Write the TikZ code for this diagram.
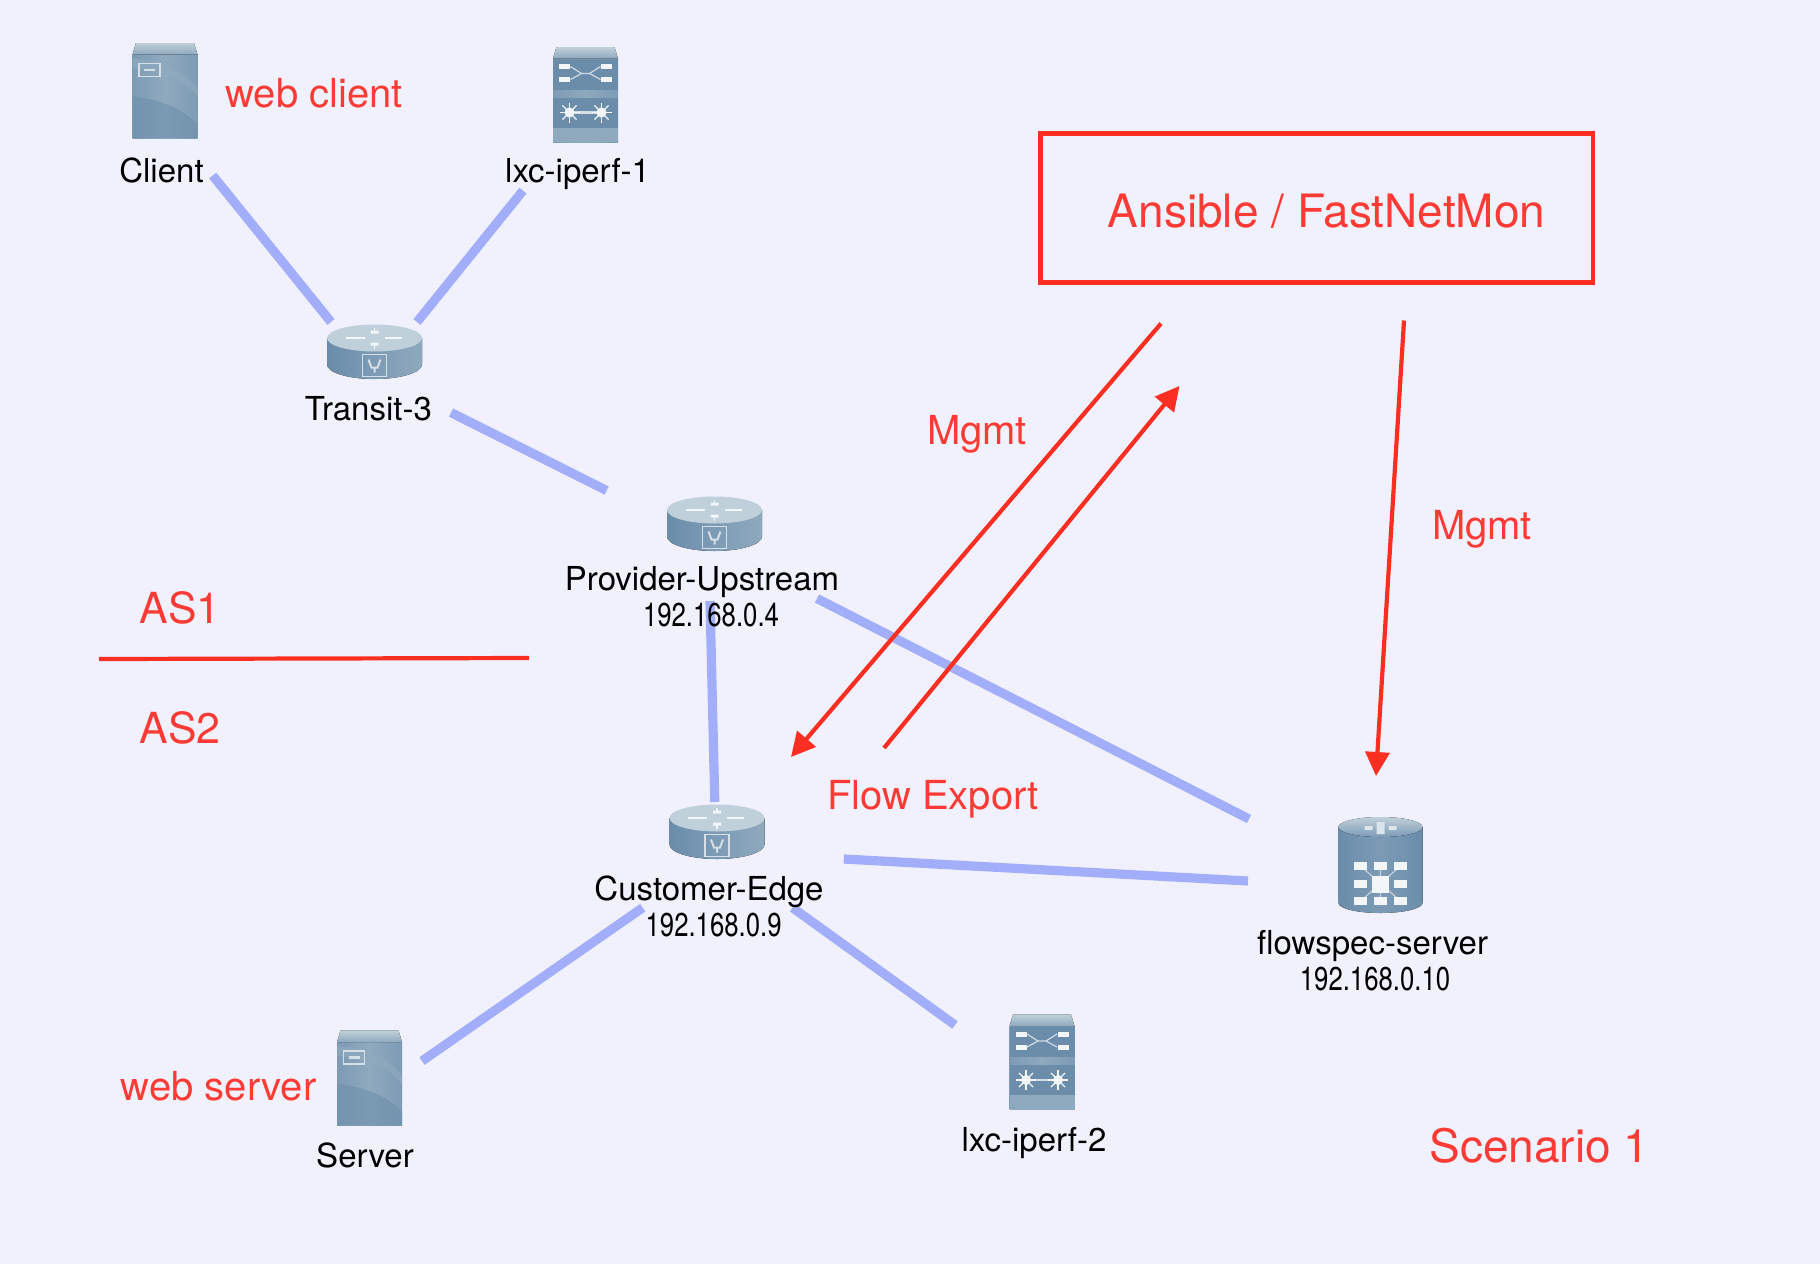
\documentclass[tikz,border=0pt]{standalone}
\usepackage{fontspec}
\setmainfont{TeX Gyre Heros}
\usetikzlibrary{arrows.meta}

\definecolor{bgfill}{HTML}{F1F1FE}
\definecolor{linkblue}{HTML}{A3AEFA}
\definecolor{markred}{HTML}{FB2E22}
\definecolor{textred}{HTML}{FC3B35}
\definecolor{icondark}{HTML}{6B8DAA}
\definecolor{iconmid}{HTML}{7D9BB5}
\definecolor{iconpale}{HTML}{8FA9BE}
\definecolor{icontop}{HTML}{C0D0DB}
\definecolor{iconwhite}{HTML}{F2F6F8}

\tikzset{
  linkline/.style={draw=linkblue,line width=4.6pt},
  redline/.style={draw=markred,line width=2.1pt},
  redarrow/.style={redline,-{Triangle[length=12pt,width=12pt]}},
  redbox/.style={draw=markred,line width=2.2pt},
  devname/.style={inner sep=0pt,font=\fontsize{16.5}{19}\selectfont},
  devip/.style={inner sep=0pt,xscale=.78,font=\fontsize{16.5}{19}\selectfont},
  redsmall/.style={inner sep=0pt,text=textred,font=\fontsize{20}{24}\selectfont},
  redas/.style={inner sep=0pt,text=textred,font=\fontsize{21.4}{25}\selectfont},
  redbig/.style={inner sep=0pt,text=textred,font=\fontsize{23}{27}\selectfont},
  % body of the two upright boxes
  boxbody/.pic={
    \fill[left color=iconmid,right color=iconmid,middle color=iconpale] (-32.5,-36) rectangle (32.5,47.5);
    \fill[top color=icontop,bottom color=iconpale] (-29,-47.5) -- (29,-47.5) -- (32.5,-36) -- (-32.5,-36) -- cycle;
  },
  serverpic/.pic={
    \pic {boxbody};
    \fill[icondark,opacity=.55] (-32.5,6) .. controls (-5,9) and (18,18) .. (32.5,34) -- (32.5,47.5) -- (-32.5,47.5) -- cycle;
    \fill[iconpale,opacity=.7] (-32.5,-22) .. controls (-5,-20) and (18,-12) .. (32.5,6) -- (32.5,-3) .. controls (15,-22) and (0,-30) .. (-32.5,-32) -- cycle;
    \draw[iconwhite!75!iconmid,line width=.9pt] (-26,-27) rectangle (-5,-14);
    \draw[iconwhite!75!iconmid,line width=1.4pt] (-21,-20.5) -- (-10,-20.5);
  },
  switchpic/.pic={
    \pic {boxbody};
    \fill[icondark] (-32.5,-36) rectangle (32.5,-5);
    \fill[iconpale] (-32.5,33) rectangle (32.5,47.5);
    \fill[icondark] (-32.5,3) rectangle (32.5,33);
    \foreach \bx in {-21,21}
      \foreach \by in {-28,-15}
        \fill[iconwhite] (\bx-5.5,\by-2.5) rectangle (\bx+5.5,\by+2.5);
    \draw[iconwhite!70!iconmid,line width=.6pt] (-15,-15) -- (-4,-21) -- (4,-21) -- (15,-15);
    \draw[iconwhite!70!iconmid,line width=.6pt] (-15,-28) -- (-4,-21) (4,-21) -- (15,-28);
    \draw[iconwhite!75!iconmid,line width=1.2pt] (-16,18) -- (16,18);
    \foreach \bx in {-16,16}{
      \foreach \ang in {0,45,...,315}
        \draw[iconwhite,line width=.6pt] (\bx,18) -- ++(\ang:10);
      \fill[iconwhite] (\bx,18) circle (5);
    }
  },
  routerpic/.pic={
    \fill[left color=icondark,right color=iconpale,middle color=iconmid] (-47.5,-13.5) -- (-47.5,13) arc[start angle=180,end angle=0,x radius=47.5,y radius=14.5] -- (47.5,-13.5) -- cycle;
    \fill[icontop] (0,-13.5) ellipse [x radius=47.5,y radius=13.5];
    \draw[iconwhite,line width=.8pt] (-29,-13.5) -- (-10,-13.5) (10,-13.5) -- (27,-13.5) (0,-24) -- (0,-19) (0,-8) -- (0,-3);
    \fill[iconwhite] (-4,-21) rectangle (4,-18) (-4,-9) rectangle (4,-6);
    \draw[iconwhite!75!iconmid,line width=.8pt] (-12,3) rectangle (12,25);
    \draw[iconwhite!75!iconmid,line width=1pt] (-6,8) -- (-3,16) -- (3,16) -- (6,8) (0,16) -- (0,21);
  },
  dbpic/.pic={
    \fill[left color=icondark,right color=icondark,middle color=iconmid] (-42,-38) -- (-42,38) arc[start angle=180,end angle=0,x radius=42,y radius=10] -- (42,-38) -- cycle;
    \fill[top color=icontop,bottom color=iconmid] (0,-38) ellipse [x radius=42,y radius=10];
    \fill[iconwhite!80!iconmid] (-4,-43) rectangle (4,-31) (-16,-39) rectangle (-8,-35) (8,-39) rectangle (16,-35);
    \draw[iconwhite!60!iconmid,line width=.6pt] (-20,1) -- (20,36) (-20,36) -- (20,1) (0,1) -- (0,36);
    \foreach \bx in {-20,0,20}
      \foreach \by in {1,36}
        \fill[iconwhite] (\bx-6.5,\by-4) rectangle (\bx+6.5,\by+4);
    \foreach \bx in {-20,20}
      \fill[iconwhite] (\bx-6.5,15) rectangle (\bx+6.5,23);
    \fill[iconwhite] (-8.5,10.5) rectangle (8.5,27.5);
  }
}

\begin{document}
\begin{tikzpicture}[x=0.5pt,y=-0.5pt]
\fill[bgfill] (0,0) rectangle (1820,1264);
\useasboundingbox (0,0) rectangle (1820,1264);

% Icons
\pic (client) at (165,90.5) {serverpic};
\pic (iperfone) at (585.5,94.5) {switchpic};
\pic (transit) at (374.5,351.5) {routerpic};
\pic (provider) at (714.5,523.5) {routerpic};
\pic (customer) at (717,831.5) {routerpic};
\pic (flowspec) at (1380.5,865) {dbpic};
\pic (server) at (369.5,1078) {serverpic};
\pic (iperftwo) at (1042,1062) {switchpic};

% Box
\coordinate (boxa) at (1040.5,133.6);
\coordinate (boxb) at (1593,282.4);
\draw[redbox] (boxa) rectangle (boxb);

% Link ends
\coordinate (clientend) at (212.7,175.5);
\coordinate (transitl) at (331,322);
\coordinate (iperfoneend) at (523,190.6);
\coordinate (transitr) at (417,322);
\coordinate (transitend) at (451,412.6);
\coordinate (providertop) at (606.7,490.5);
\coordinate (providerb) at (710,601);
\coordinate (customertop) at (714.8,802);
\coordinate (providerr) at (817,598.5);
\coordinate (flowspectop) at (1249,819);
\coordinate (customerr) at (843.8,859);
\coordinate (flowspecl) at (1248,881);
\coordinate (customerbl) at (642.7,907.7);
\coordinate (serverend) at (422,1061);
\coordinate (customerbr) at (792.6,907.7);
\coordinate (iperftwoend) at (955,1025);

% Links
\draw[linkline] (clientend) -- (transitl);
\draw[linkline] (iperfoneend) -- (transitr);
\draw[linkline] (transitend) -- (providertop);
\draw[linkline] (providerb) -- (customertop);
\draw[linkline] (providerr) -- (flowspectop);
\draw[linkline] (customerr) -- (flowspecl);
\draw[linkline] (customerbl) -- (serverend);
\draw[linkline] (customerbr) -- (iperftwoend);

% Red line ends
\coordinate (asl) at (99,659);
\coordinate (asr) at (529,658);
\coordinate (mgmtastart) at (1161,323.5);
\coordinate (mgmtaend) at (791,757);
\coordinate (exportstart) at (884,748);
\coordinate (exportend) at (1179.5,386);
\coordinate (mgmtbstart) at (1404,320.5);
\coordinate (mgmtbend) at (1376,776);

% Red lines
\draw[redline] (asl) -- (asr);
\draw[redarrow] (mgmtastart) -- (mgmtaend);
\draw[redarrow] (exportstart) -- (exportend);
\draw[redarrow] (mgmtbstart) -- (mgmtbend);

% Device names
\node (clientname) [devname] at (161.5,170) {Client};
\node (iperfonename) [devname] at (577.6,174) {lxc-iperf-1};
\node (transitname) [devname] at (368.4,409) {Transit-3};
\node (providername) [devname] at (702,582) {Provider-Upstream};
\node (providerip) [devip] at (711,615) {192.168.0.4};
\node (customername) [devname] at (709,892) {Customer-Edge};
\node (customerip) [devip] at (713.6,925) {192.168.0.9};
\node (flowspecname) [devname] at (1372.6,946) {flowspec-server};
\node (flowspecip) [devip] at (1375,979) {192.168.0.10};
\node (servername) [devname] at (365,1155) {Server};
\node (iperftwoname) [devname] at (1034,1143) {lxc-iperf-2};

% Red notes
\node (webclient) [redsmall] at (314,93) {web client};
\node (webserver) [redsmall] at (218.5,1086) {web server};
\node (mgmtleft) [redsmall] at (977,434.5) {Mgmt};
\node (mgmtright) [redsmall] at (1482,529) {Mgmt};
\node (flowexport) [redsmall] at (933,799) {Flow Export};
\node (asone) [redas] at (180,607.5) {AS1};
\node (astwo) [redas] at (180,728) {AS2};
\node (scenario) [redbig] at (1539.5,1146) {Scenario 1};
\node (ansible) [redbig] at (1326.5,211.5) {Ansible / FastNetMon};

\end{tikzpicture}
\end{document}
